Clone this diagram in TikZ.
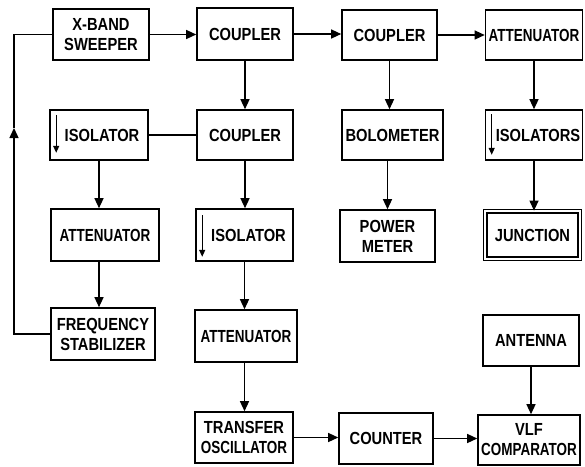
\documentclass[tikz,border=0pt]{standalone}
\usepackage{fontspec}
\newfontfamily\lab{Liberation Sans Bold}[FakeStretch=0.84]
\newfontfamily\labn{Liberation Sans Bold}[FakeStretch=0.77]
\usetikzlibrary{arrows.meta}
\begin{document}
\begin{tikzpicture}[x=1pt,y=-1pt,
 box/.style={draw,line width=1.6pt,inner sep=0.5pt,align=center,font=\lab\fontsize{17.5}{20}\selectfont},
 nbox/.style={box,font=\labn\fontsize{17.5}{20}\selectfont},
 arr/.style={line width=1.3pt,-{Triangle[length=10pt,width=9pt]}},
 ln/.style={line width=1.3pt},
 isoarr/.style={line width=1.2pt,-{Triangle[length=7pt,width=6pt]}}]
\useasboundingbox (0,0) rectangle (585,466);
% row 1
\node[box,minimum width=96pt,minimum height=51pt] (sweep) at (101,34.5) {X-BAND\\SWEEPER};
\node[box,minimum width=96pt,minimum height=52pt] (c1) at (245,34) {COUPLER};
\node[box,minimum width=95pt,minimum height=50pt] (c2) at (389.5,35) {COUPLER};
\node[nbox,minimum width=97pt,minimum height=50pt] (att4) at (534,35) {ATTENUATOR};
% row 2
\node[box,minimum width=98pt,minimum height=50pt] (iso1) at (99,135) {\hspace{6pt}ISOLATOR};
\node[box,minimum width=96pt,minimum height=50pt] (c3) at (245,135) {COUPLER};
\node[box,minimum width=101pt,minimum height=50pt] (bolo) at (392.5,135) {BOLOMETER};
\node[box,minimum width=97pt,minimum height=50pt] (isos) at (534,135) {\hspace{8pt}ISOLATORS};
% row 3
\node[nbox,minimum width=108pt,minimum height=52pt] (att1) at (105,235) {ATTENUATOR};
\node[box,minimum width=97pt,minimum height=52pt] (iso2) at (244.5,235) {\hspace{8pt}ISOLATOR};
\node[box,minimum width=95pt,minimum height=52pt] (pm) at (387.5,236) {POWER\\METER};
\node[box,line width=1.3pt,double,double distance=2pt,minimum width=94.5pt,minimum height=47.5pt] (junc) at (532.5,235) {JUNCTION};
% row 4
\node[box,minimum width=104pt,minimum height=52pt] (fs) at (103,334) {FREQUENCY\\STABILIZER};
\node[nbox,minimum width=102pt,minimum height=52pt] (att2) at (246,336) {ATTENUATOR};
\node[box,minimum width=96pt,minimum height=51pt] (ant) at (531,340.5) {ANTENNA};
% row 5
\node[box,minimum width=98pt,minimum height=51pt] (trans) at (244,437.5) {TRANSFER\\{\labn OSCILLATOR}};
\node[box,minimum width=94pt,minimum height=51pt] (count) at (386,438.5) {COUNTER};
\node[box,minimum width=102pt,minimum height=50pt] (vlf) at (529,440) {VLF\\{\labn COMPARATOR}};
% isolator arrows
\draw[isoarr] ([xshift=7pt,yshift=-6pt]iso1.north west) -- ([xshift=7pt,yshift=8pt]iso1.south west);
\draw[isoarr] ([xshift=7pt,yshift=-7pt]iso2.north west) -- ([xshift=7pt,yshift=5pt]iso2.south west);
\draw[isoarr] ([xshift=7pt,yshift=-5pt]isos.north west) -- ([xshift=7pt,yshift=6pt]isos.south west);
% horizontal connectors
\draw[arr] (sweep.east) -- (sweep.east -| c1.west);
\draw[arr] (c1.east) -- (c1.east -| c2.west);
\draw[arr] (c2.east) -- (c2.east -| att4.west);
\draw[ln] (c3.west) -- (c3.west -| iso1.east);
\draw[arr] (trans.east) -- (trans.east -| count.west);
\draw[arr] (count.east) -- (count.east -| vlf.west);
% vertical connectors
\draw[arr] (c1.south) -- (c1.south |- c3.north);
\draw[arr] (c2.south) -- (c2.south |- bolo.north);
\draw[arr] (att4.south) -- (att4.south |- isos.north);
\draw[arr] (iso1.south) -- (iso1.south |- att1.north);
\draw[arr] (iso1.south |- att1.south) -- (iso1.south |- fs.north);
\draw[arr] (c3.south) -- (c3.south |- iso2.north);
\draw[arr] (iso2.south) -- (iso2.south |- att2.north);
\draw[arr] (iso2.south |- att2.south) -- (iso2.south |- trans.north);
\draw[arr] (bolo.south -| pm.north) -- (pm.north);
\draw[arr] (isos.south) -- (isos.south |- junc.north);
\draw[arr] (ant.south) -- (ant.south |- vlf.north);
% feedback loop
\coordinate (loopx) at (14,0);
\coordinate (loopmid) at (14,128);
\draw[arr] (fs.west) -- (fs.west -| loopx) -- (loopmid);
\draw[ln] (loopmid) -- (loopx |- sweep.west) -- (sweep.west);
\end{tikzpicture}
\end{document}
